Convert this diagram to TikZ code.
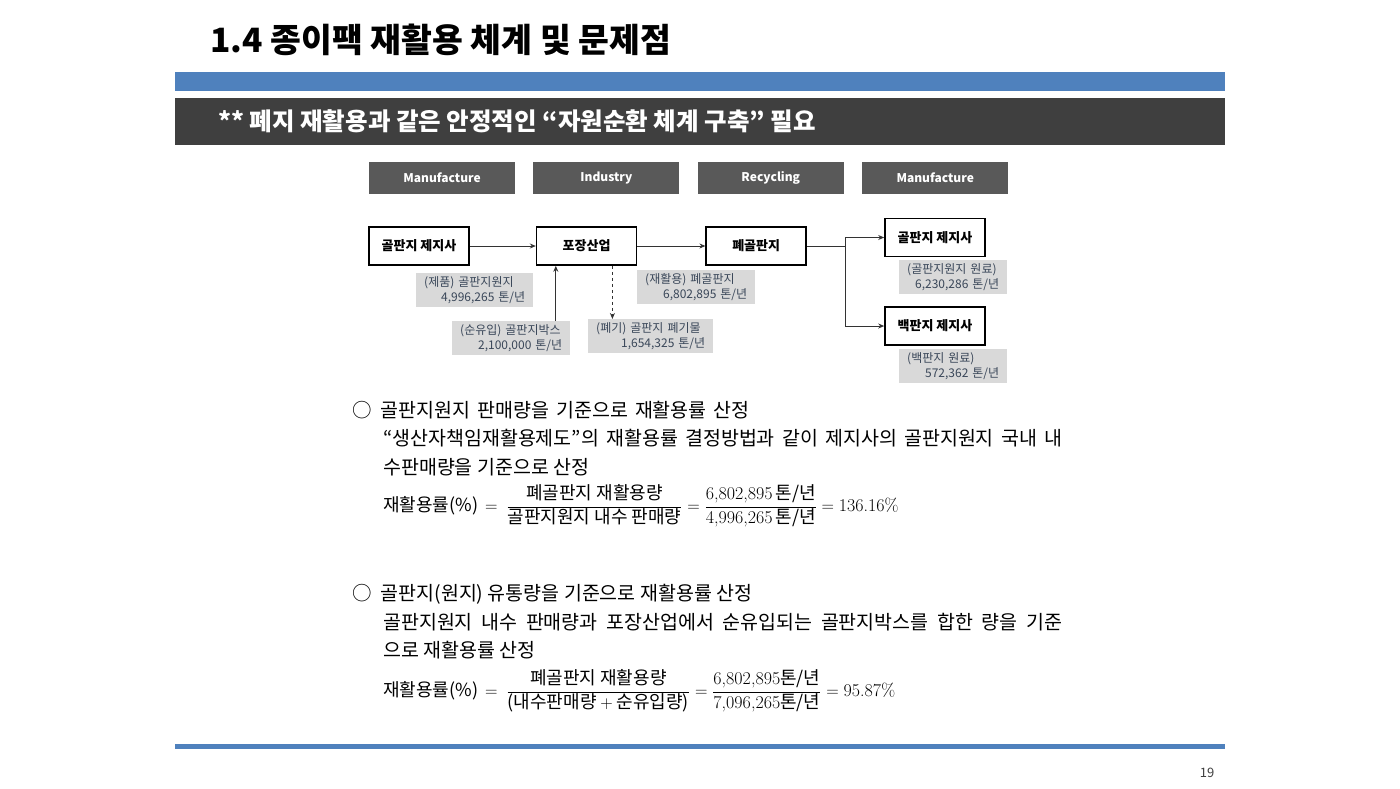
\documentclass[tikz,border=0pt]{standalone}
\usepackage{fontspec}
\newfontfamily\kr{Noto Sans CJK KR}
\usetikzlibrary{arrows.meta,positioning,calc}

\definecolor{barblue}{HTML}{4F81BD}
\definecolor{bardark}{HTML}{3F3F3F}
\definecolor{stagegray}{HTML}{595959}
\definecolor{notegray}{HTML}{D9D9D9}
\definecolor{notetext}{HTML}{3A4759}

\newcommand{\tpy}{톤/년}
% two-line quantity label: caption, then amount set flush right
\newcommand{\amount}[2]{#1\\\makebox[\linewidth][r]{#2~\tpy}}

\begin{document}
\begin{tikzpicture}[
    x=1pt, y=-1pt,
    font=\kr,
    >={Stealth[length=6pt, width=5pt]},
    stage/.style  ={rectangle, fill=stagegray, text=white, inner sep=0pt,
                    minimum width=146pt, minimum height=32pt,
                    font=\kr\bfseries\fontsize{12}{14}\selectfont},
    proc/.style   ={rectangle, draw=black, line width=1.6pt, fill=white,
                    minimum width=100pt, minimum height=38pt, inner sep=0pt,
                    font=\kr\bfseries\fontsize{13}{15}\selectfont},
    note/.style   ={rectangle, fill=notegray, text=notetext, align=left,
                    inner xsep=8pt, inner ysep=2pt, minimum height=34pt,
                    font=\kr\fontsize{12}{15}\selectfont},
    body/.style   ={anchor=west, inner sep=0pt,
                    font=\kr\fontsize{19.5}{23}\selectfont},
    formula/.style={anchor=west, inner sep=0pt,
                    font=\kr\fontsize{18}{21}\selectfont},
    flow/.style   ={->, line width=0.9pt, black!80},
]
\useasboundingbox (0,0) rectangle (1400,788);
\fill[white] (0,0) rectangle (1400,788);

% ----------------------------------------------------------------------
%  heading and bars
% ----------------------------------------------------------------------
\node[anchor=west, inner sep=0pt, font=\kr\bfseries\fontsize{33.5}{38}\selectfont]
      (title) at (210,40) {1.4 종이팩 재활용 체계 및 문제점};
\fill[barblue] (175,72) rectangle (1225,91);
\fill[bardark] (175,98) rectangle (1225,145);
\node[anchor=west, inner sep=0pt, text=white,
      font=\kr\bfseries\fontsize{24.5}{27}\selectfont]
      (slogan) at (218,121) {** 폐지 재활용과 같은 안정적인 “자원순환 체계 구축” 필요};

% ----------------------------------------------------------------------
%  stage headers
% ----------------------------------------------------------------------
\node[stage] (stmfr) at (442,178) {Manufacture};
\node[stage, right=18pt of stmfr] (stind) {Industry};
\node[stage, right=18pt of stind] (strec) {Recycling};
\node[stage, right=18pt of strec] (stmfr2) {Manufacture};

% ----------------------------------------------------------------------
%  flow boxes
% ----------------------------------------------------------------------
\node[proc] (mill) at (419,246) {골판지 제지사};
\node[proc, right=66pt of mill] (pack) {포장산업};
\node[proc, right=68pt of pack] (scrap) {폐골판지};
\node[proc] (mill2) at (935,237.5) {골판지 제지사};
\node[proc] (white) at (935,326) {백판지 제지사};

% --- quantities ---
\node[note, text width=101pt, anchor=north west] (prod) at (416,273)
      {\amount{(제품) 골판지원지}{4,996,265}};
\node[note, text width=102pt, anchor=north west] (recy) at (637,270)
      {\amount{(재활용) 폐골판지}{6,802,895}};
\node[note, text width=102pt, anchor=north west] (netin) at (452,321)
      {\amount{(순유입) 골판지박스}{2,100,000}};
\node[note, text width=109pt, anchor=north west] (disp) at (588,319)
      {\amount{(폐기) 골판지 폐기물}{1,654,325}};
\node[note, text width=92pt, anchor=north west] (raw1) at (899,260)
      {\amount{(골판지원지 원료)}{6,230,286}};
\node[note, text width=92pt, anchor=north west] (raw2) at (899,349)
      {\amount{(백판지 원료)}{572,362}};

% --- edges ---
\draw[flow] (mill) -- (pack);
\draw[flow] (pack) -- (scrap);

\coordinate (split) at (845,246);
\draw[line width=0.9pt, black!80] (scrap.east) -- (split);
\draw[flow] (split) |- (mill2.west);
\draw[flow] (split) |- (white.west);

\coordinate (inflow)  at ($(pack.south west)+(20,0)$);
\coordinate (outflow) at ($(pack.south east)+(-25,0)$);
\draw[flow] (inflow |- netin.north) -- (inflow);
\draw[flow, dashed] (outflow) -- (outflow |- disp.north);

% ----------------------------------------------------------------------
%  rate 1 : domestic sales
% ----------------------------------------------------------------------
\node[body] (h1) at (352,410)
      {○\hspace{9pt}\makebox[369pt][s]{골판지원지 판매량을 기준으로 재활용률 산정}};
\node[body] (t1a) at (383,438)
      {\makebox[679pt][s]{“생산자책임재활용제도”의 재활용률 결정방법과 같이 제지사의 골판지원지 국내 내}};
\node[body] (t1b) at (383,467) {수판매량을 기준으로 산정};
\node[formula] (rate1) at (383,506)
      {재활용률(\%)\,~$=~\displaystyle
       \frac{\mbox{폐골판지 재활용량}}{\mbox{골판지원지 내수 판매량}}
       = \frac{\mbox{\rmfamily 6,802,895}\,\mbox{\tpy}}{\mbox{\rmfamily 4,996,265}\,\mbox{\tpy}}
       = \mbox{\rmfamily 136.16\%}$};

% ----------------------------------------------------------------------
%  rate 2 : sales + net imports
% ----------------------------------------------------------------------
\node[body] (h2) at (352,594)
      {○\hspace{9pt}골판지(원지) 유통량을 기준으로 재활용률 산정};
\node[body] (t2a) at (383,622)
      {\makebox[679pt][s]{골판지원지 내수 판매량과 포장산업에서 순유입되는 골판지박스를 합한 량을 기준}};
\node[body] (t2b) at (383,650) {으로 재활용률 산정};
\node[formula] (rate2) at (383,691)
      {재활용률(\%)\,~$=~\displaystyle
       \frac{\mbox{폐골판지 재활용량}}{\mbox{(내수판매량}+\mbox{순유입량)}}
       = \frac{\mbox{\rmfamily 6,802,895}\mbox{\tpy}}{\mbox{\rmfamily 7,096,265}\mbox{\tpy}}
       = \mbox{\rmfamily 95.87\%}$};

% ----------------------------------------------------------------------
%  footer
% ----------------------------------------------------------------------
\fill[barblue] (175,744) rectangle (1225,749);
\node[inner sep=0pt, text=black!75, font=\kr\fontsize{13}{15}\selectfont]
      (page) at (1207,773) {19};

\end{tikzpicture}
\end{document}
